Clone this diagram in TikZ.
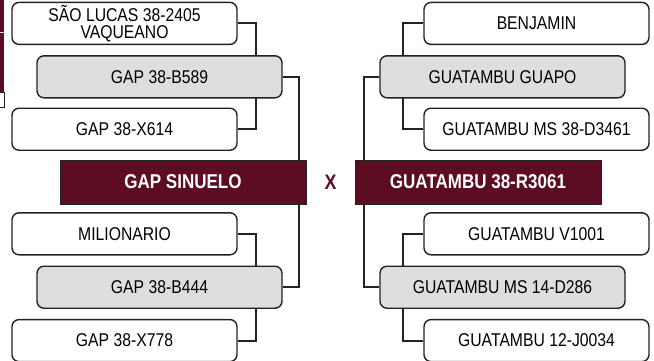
\documentclass[tikz,border=0pt]{standalone}
\usepackage{fontspec}
\setmainfont{Liberation Sans}[FakeStretch=0.85]
\usepackage{tikz}
\usetikzlibrary{positioning,calc,backgrounds}
\definecolor{pedmaroon}{RGB}{92,13,35}
\definecolor{pedgray}{RGB}{222,222,222}
\definecolor{pedline}{RGB}{34,34,34}
\tikzset{
  % --- pedigree boxes -------------------------------------------------------
  pedparent/.style={
    rectangle, draw=pedline, line width=1pt, fill=pedmaroon,
    minimum width=246pt, minimum height=44pt, inner sep=0pt,
    font=\bfseries\fontsize{20}{22}\selectfont\color{white}
  },
  pedsire/.style={
    rectangle, rounded corners=7pt, draw=pedline, line width=1.4pt,
    fill=pedgray, minimum width=245pt, minimum height=42pt, inner sep=0pt,
    align=center, font=\fontsize{18.5}{17.5}\selectfont
  },
  pedgrand/.style={pedsire, fill=white, minimum width=225pt},
  pedcross/.style={font=\bfseries\fontsize{21}{22}\selectfont\color{pedmaroon}},
  % --- connectors -----------------------------------------------------------
  pedlink/.style={draw=pedline, line width=2pt},
}
\begin{document}
\begin{tikzpicture}[x=1pt, y=1pt, node distance=61pt]
    \useasboundingbox (0,0) rectangle (654,-360);

    % cut edge of the neighbouring panel
    \fill[pedmaroon] (-2,0) rectangle (4,-92);
    \draw[white!75!gray, line width=0.8pt] (-2,-32) -- (4,-32);
    \draw[draw=pedline, line width=1pt, fill=white] (-2,-92) rectangle (4,-107);

    \node[pedparent] (sinuelo) at (183,-182) {GAP SINUELO};
    \node[pedparent, right=48pt of sinuelo] (guatambu) {GUATAMBU 38-R3061};
    \node[pedcross] (cross) at ($(sinuelo.east)!0.5!(guatambu.west)$) {X};

    \node[pedsire, above=of sinuelo, xshift=-23.5pt] (b589) {GAP 38-B589};
    \node[pedsire, below=of sinuelo, xshift=-23.5pt] (b444) {GAP 38-B444};
    \node[pedsire, above=of guatambu, xshift=24.5pt] (guapo) {GUATAMBU GUAPO};
    \node[pedsire, below=of guatambu, xshift=24.5pt] (ms14) {GUATAMBU MS 14-D286};

    \node[pedgrand, above=10pt of b589, xshift=-35pt] (saolucas) {SÃO LUCAS 38-2405\\VAQUEANO};
    \node[pedgrand, below=9pt of b589, xshift=-35pt] (x614) {GAP 38-X614};
    \node[pedgrand, above=10pt of b444, xshift=-35pt] (milionario) {MILIONARIO};
    \node[pedgrand, below=10pt of b444, xshift=-35pt] (x778) {GAP 38-X778};
    \node[pedgrand, above=10pt of guapo, xshift=34pt] (benjamin) {BENJAMIN};
    \node[pedgrand, below=9pt of guapo, xshift=34pt] (d3461) {GUATAMBU MS 38-D3461};
    \node[pedgrand, above=10pt of ms14, xshift=34pt] (v1001) {GUATAMBU V1001};
    \node[pedgrand, below=10pt of ms14, xshift=34pt] (j0034) {GUATAMBU 12-J0034};

    \begin{scope}[on background layer]
      \draw[pedlink] (saolucas.east) -- ++(18pt,0) |- (x614.east);
      \draw[pedlink] (milionario.east) -- ++(18pt,0) |- (x778.east);
      \draw[pedlink] (b589.east) -| ([xshift=-8pt]sinuelo.north east);
      \draw[pedlink] (b444.east) -| ([xshift=-8pt]sinuelo.south east);
      \draw[pedlink] (benjamin.west) -- ++(-20pt,0) |- (d3461.west);
      \draw[pedlink] (v1001.west) -- ++(-20pt,0) |- (j0034.west);
      \draw[pedlink] (guapo.west) -| ([xshift=9pt]guatambu.north west);
      \draw[pedlink] (ms14.west) -| ([xshift=9pt]guatambu.south west);
    \end{scope}
  \end{tikzpicture}
\end{document}
